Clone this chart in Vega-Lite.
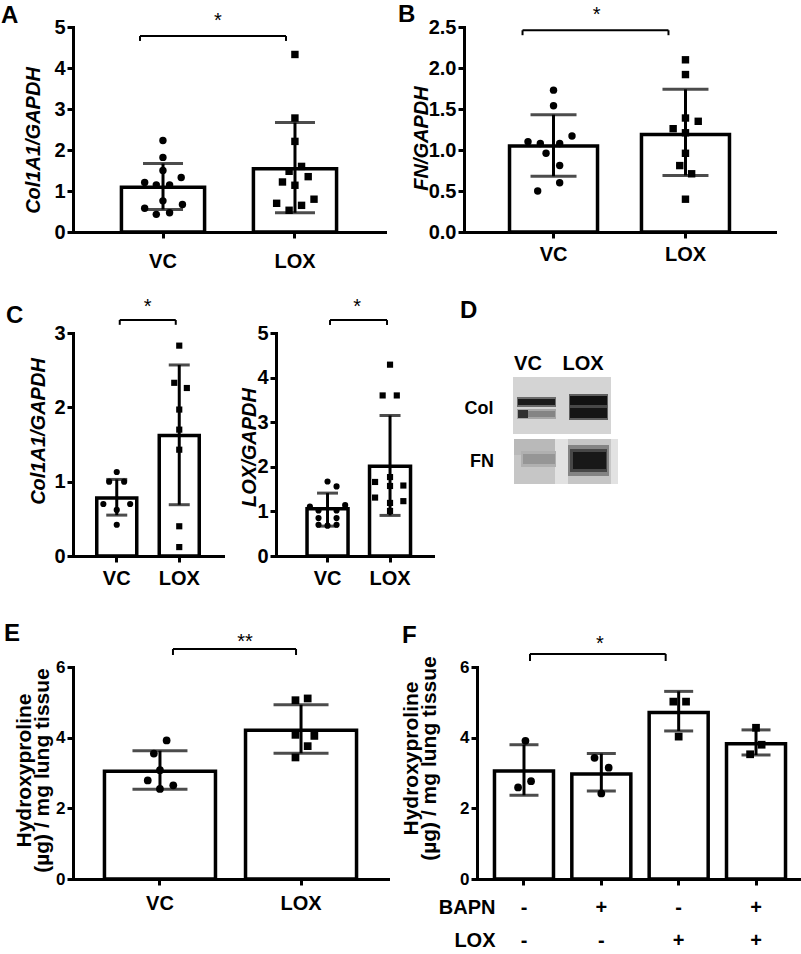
{
"$schema":"https://vega.github.io/schema/vega-lite/v6.json",
"background":"white",
"padding":{"left":1,"top":3,"right":0,"bottom":0},
"spacing":25,
"datasets":{
"A_bar":[{"g":"VC","m":1.09,"lo":0.55,"hi":1.67},{"g":"LOX","m":1.54,"lo":0.47,"hi":2.67}],
"A_pts":[{"g":"VC","v":2.23,"j":0},{"g":"VC","v":1.82,"j":0},{"g":"VC","v":1.5,"j":0},{"g":"VC","v":1.33,"j":0.44},{"g":"VC","v":1.21,"j":-0.44},{"g":"VC","v":1.15,"j":-0.16},{"g":"VC","v":1.15,"j":0.16},{"g":"VC","v":0.76,"j":0},{"g":"VC","v":0.67,"j":0.47},{"g":"VC","v":0.58,"j":-0.44},{"g":"VC","v":0.47,"j":0.16},{"g":"VC","v":0.43,"j":-0.16},
{"g":"LOX","v":4.33,"j":0},{"g":"LOX","v":2.78,"j":0},{"g":"LOX","v":2.21,"j":0},{"g":"LOX","v":1.6,"j":0.16},{"g":"LOX","v":1.48,"j":-0.14},{"g":"LOX","v":1.35,"j":0.32},{"g":"LOX","v":1.22,"j":-0.3},{"g":"LOX","v":1.14,"j":0},{"g":"LOX","v":0.8,"j":0.46},{"g":"LOX","v":0.7,"j":-0.44},{"g":"LOX","v":0.65,"j":0.16},{"g":"LOX","v":0.53,"j":-0.14}],
"A_sig":[{"g":"VC","g2":"LOX","top":4.78,"end":4.66,"star":5.0,"t":"*"}],
"B_bar":[{"g":"VC","m":1.05,"lo":0.68,"hi":1.43},{"g":"LOX","m":1.19,"lo":0.69,"hi":1.74}],
"B_pts":[{"g":"VC","v":1.73,"j":0},{"g":"VC","v":1.54,"j":0},{"g":"VC","v":1.17,"j":0.42},{"g":"VC","v":1.1,"j":-0.58},{"g":"VC","v":1.08,"j":-0.3},{"g":"VC","v":1.08,"j":0.14},{"g":"VC","v":0.96,"j":-0.17},{"g":"VC","v":0.81,"j":0.14},{"g":"VC","v":0.6,"j":0.14},{"g":"VC","v":0.5,"j":-0.36},
{"g":"LOX","v":2.1,"j":0},{"g":"LOX","v":1.92,"j":0},{"g":"LOX","v":1.39,"j":0},{"g":"LOX","v":1.35,"j":0.29},{"g":"LOX","v":1.26,"j":-0.28},{"g":"LOX","v":1.21,"j":0},{"g":"LOX","v":0.96,"j":0},{"g":"LOX","v":0.81,"j":-0.13},{"g":"LOX","v":0.71,"j":0.14},{"g":"LOX","v":0.4,"j":0}],
"B_sig":[{"g":"VC","g2":"LOX","top":2.46,"end":2.4,"star":2.57,"t":"*"}],
"C1_bar":[{"g":"VC","m":0.78,"lo":0.55,"hi":1.03},{"g":"LOX","m":1.62,"lo":0.69,"hi":2.57}],
"C1_pts":[{"g":"VC","v":1.13,"j":0},{"g":"VC","v":1.0,"j":-0.38},{"g":"VC","v":1.0,"j":0.37},{"g":"VC","v":0.7,"j":-0.67},{"g":"VC","v":0.7,"j":0.67},{"g":"VC","v":0.62,"j":0},{"g":"VC","v":0.42,"j":0},
{"g":"LOX","v":2.83,"j":0},{"g":"LOX","v":2.33,"j":-0.25},{"g":"LOX","v":2.26,"j":0.38},{"g":"LOX","v":1.97,"j":0},{"g":"LOX","v":1.7,"j":0},{"g":"LOX","v":1.43,"j":0},{"g":"LOX","v":0.4,"j":0},{"g":"LOX","v":0.12,"j":0}],
"C1_sig":[{"g":"VC","g2":"LOX","top":3.175,"end":3.11,"star":3.27,"t":"*"}],
"C2_bar":[{"g":"VC","m":1.06,"lo":0.67,"hi":1.41},{"g":"LOX","m":2.01,"lo":0.91,"hi":3.15}],
"C2_pts":[{"g":"VC","v":1.67,"j":0},{"g":"VC","v":1.56,"j":0.44},{"g":"VC","v":1.14,"j":0.86},{"g":"VC","v":1.11,"j":-0.86},{"g":"VC","v":1.02,"j":-0.44},{"g":"VC","v":1.02,"j":0.44},{"g":"VC","v":0.85,"j":-0.44},{"g":"VC","v":0.85,"j":0.44},{"g":"VC","v":0.7,"j":-0.44},{"g":"VC","v":0.68,"j":0},{"g":"VC","v":0.7,"j":0.44},
{"g":"LOX","v":4.29,"j":0},{"g":"LOX","v":3.6,"j":-0.36},{"g":"LOX","v":3.6,"j":0.33},{"g":"LOX","v":1.77,"j":0},{"g":"LOX","v":1.66,"j":-0.73},{"g":"LOX","v":1.58,"j":0.65},{"g":"LOX","v":1.57,"j":0},{"g":"LOX","v":1.31,"j":-0.73},{"g":"LOX","v":1.23,"j":0.65},{"g":"LOX","v":1.19,"j":0},{"g":"LOX","v":1.01,"j":0}],
"C2_sig":[{"g":"VC","g2":"LOX","top":5.29,"end":5.18,"star":5.45,"t":"*"}],
"D_rect":[
{"x0":27,"x1":125,"y0":44,"y1":101,"d":0.15},
{"x0":28,"x1":132,"y0":106,"y1":151,"d":0.2},
{"x0":28,"x1":69,"y0":106,"y1":122,"d":0.25},
{"x0":69,"x1":82,"y0":106,"y1":151,"d":0.1},
{"x0":125,"x1":132,"y0":106,"y1":151,"d":0.1},
{"x0":31,"x1":70,"y0":64,"y1":74,"d":0.55},
{"x0":32,"x1":69,"y0":66,"y1":72,"d":0.9},
{"x0":31,"x1":70,"y0":76,"y1":86,"d":0.32},
{"x0":32,"x1":69,"y0":78,"y1":84,"d":0.45},
{"x0":32,"x1":42,"y0":77,"y1":85,"d":0.8},
{"x0":83,"x1":122,"y0":61,"y1":87,"d":0.6},
{"x0":84,"x1":121,"y0":63,"y1":72,"d":0.95},
{"x0":84,"x1":121,"y0":72,"y1":75,"d":0.7},
{"x0":84,"x1":121,"y0":75,"y1":85,"d":0.93},
{"x0":35,"x1":70,"y0":118,"y1":134,"d":0.28},
{"x0":37,"x1":69,"y0":121,"y1":131,"d":0.38},
{"x0":82,"x1":123,"y0":112,"y1":143,"d":0.45},
{"x0":84,"x1":121,"y0":116,"y1":139,"d":0.7},
{"x0":87,"x1":120,"y0":119,"y1":136,"d":0.92}],
"D_txt":[{"t":"VC","x":42,"y":31,"k":"lane"},{"t":"LOX","x":97,"y":31,"k":"lane"},{"t":"Col","x":-7,"y":76,"k":"row"},{"t":"FN","x":-4,"y":129,"k":"row"}],
"E_bar":[{"g":"VC","m":3.05,"lo":2.54,"hi":3.63},{"g":"LOX","m":4.21,"lo":3.56,"hi":4.93}],
"E_pts":[{"g":"VC","v":3.92,"j":0.12},{"g":"VC","v":3.55,"j":-0.11},{"g":"VC","v":3.08,"j":0},{"g":"VC","v":2.79,"j":-0.22},{"g":"VC","v":2.65,"j":0.24},{"g":"VC","v":2.55,"j":0},
{"g":"LOX","v":5.06,"j":-0.1},{"g":"LOX","v":5.11,"j":0.12},{"g":"LOX","v":4.08,"j":-0.1},{"g":"LOX","v":4.05,"j":0.24},{"g":"LOX","v":3.76,"j":0.12},{"g":"LOX","v":3.44,"j":-0.1}],
"E_sig":[{"g":"VC","g2":"LOX","top":6.51,"end":6.34,"star":6.54,"t":"**"}],
"F_bar":[{"g":"VC","m":3.06,"lo":2.37,"hi":3.8},{"g":"BAPN","m":2.97,"lo":2.49,"hi":3.55},{"g":"LOX","m":4.71,"lo":4.19,"hi":5.31},{"g":"BAPN+LOX","m":3.83,"lo":3.51,"hi":4.22}],
"F_pts":[{"g":"VC","v":3.91,"j":0.05},{"g":"VC","v":2.77,"j":0.24},{"g":"VC","v":2.59,"j":-0.2},
{"g":"BAPN","v":3.43,"j":-0.23},{"g":"BAPN","v":3.15,"j":0.25},{"g":"BAPN","v":2.42,"j":0},
{"g":"LOX","v":5.02,"j":-0.18},{"g":"LOX","v":5.02,"j":0.25},{"g":"LOX","v":4.03,"j":0},
{"g":"BAPN+LOX","v":4.28,"j":0},{"g":"BAPN+LOX","v":3.8,"j":0.19},{"g":"BAPN+LOX","v":3.53,"j":-0.2}],
"F_sig":[{"g":"VC","g2":"LOX","top":6.37,"end":6.17,"star":6.48,"t":"*"}]
},
"vconcat":[
{"bounds":"flush","spacing":79,"hconcat":[
{"width":312,"height":205,"title":{"text":"A","dx":-72,"dy":21},
"resolve":{"scale":{"xOffset":"independent"}},
"layer":[
{"data":{"name":"A_bar"},"mark":{"type":"bar","fill":"white","stroke":"black","strokeWidth":3.5},
"encoding":{"x":{"field":"g","type":"nominal","scale":{"domain":["VC","LOX"],"paddingInner":0.37,"paddingOuter":0.367},"axis":{"title":null,"labelAngle":0,"labelPadding":13}},
"y":{"field":"m","type":"quantitative","scale":{"domain":[0,5],"nice":false},"axis":{"values":[0,1,2,3,4,5],"format":"d","title":"Col1A1/GAPDH","titleFontStyle":"italic","titleX":-40,"titleY":113,"titleAngle":-90,"titleBaseline":"middle","titleAlign":"center"}}}},
{"data":{"name":"A_bar"},"mark":{"type":"rule","color":"black","strokeWidth":3},"encoding":{"x":{"field":"g","type":"nominal"},"y":{"field":"lo","type":"quantitative"},"y2":{"field":"hi"}}},
{"data":{"name":"A_bar"},"mark":{"type":"tick","color":"black","size":40,"thickness":3},"encoding":{"x":{"field":"g","type":"nominal"},"y":{"field":"lo","type":"quantitative"}}},
{"data":{"name":"A_bar"},"mark":{"type":"tick","color":"black","size":40,"thickness":3},"encoding":{"x":{"field":"g","type":"nominal"},"y":{"field":"hi","type":"quantitative"}}},
{"data":{"name":"A_pts"},"mark":{"type":"point","filled":true,"color":"black","size":55,"opacity":1},"encoding":{"x":{"field":"g","type":"nominal"},"xOffset":{"field":"j","type":"quantitative","scale":{"domain":[-1,1],"range":[0,83]}},"y":{"field":"v","type":"quantitative"},"shape":{"field":"g","type":"nominal","scale":{"domain":["VC","LOX"],"range":["circle","square"]},"legend":null}}},
{"data":{"name":"A_sig"},"mark":{"type":"rule","color":"black","strokeWidth":2,"xOffset":-23,"x2Offset":-9},"encoding":{"x":{"field":"g","type":"nominal"},"x2":{"field":"g2"},"y":{"field":"top","type":"quantitative"}}},
{"data":{"name":"A_sig"},"mark":{"type":"rule","color":"black","strokeWidth":2,"xOffset":-23},"encoding":{"x":{"field":"g","type":"nominal"},"y":{"field":"top","type":"quantitative"},"y2":{"field":"end"}}},
{"data":{"name":"A_sig"},"mark":{"type":"rule","color":"black","strokeWidth":2,"xOffset":-9},"encoding":{"x":{"field":"g2","type":"nominal"},"y":{"field":"top","type":"quantitative"},"y2":{"field":"end"}}},
{"data":{"name":"A_sig"},"mark":{"type":"text","color":"black","fontSize":20,"baseline":"alphabetic","align":"center","xOffset":55},"encoding":{"x":{"field":"g","type":"nominal"},"y":{"field":"star","type":"quantitative"},"text":{"field":"t"}}}
]},
{"width":311,"height":205,"title":{"text":"B","dx":-66,"dy":26},
"resolve":{"scale":{"xOffset":"independent"}},
"layer":[
{"data":{"name":"B_bar"},"mark":{"type":"bar","fill":"white","stroke":"black","strokeWidth":3.5},
"encoding":{"x":{"field":"g","type":"nominal","scale":{"domain":["VC","LOX"],"paddingInner":0.333,"paddingOuter":0.345},"axis":{"title":null,"labelAngle":0,"labelPadding":6}},
"y":{"field":"m","type":"quantitative","scale":{"domain":[0,2.5],"nice":false},"axis":{"values":[0,0.5,1,1.5,2,2.5],"format":".1f","title":"FN/GAPDH","titleFontStyle":"italic","titleX":-43,"titleY":111,"titleAngle":-90,"titleBaseline":"middle","titleAlign":"center"}}}},
{"data":{"name":"B_bar"},"mark":{"type":"rule","color":"black","strokeWidth":3},"encoding":{"x":{"field":"g","type":"nominal"},"y":{"field":"lo","type":"quantitative"},"y2":{"field":"hi"}}},
{"data":{"name":"B_bar"},"mark":{"type":"tick","color":"black","size":46,"thickness":3},"encoding":{"x":{"field":"g","type":"nominal"},"y":{"field":"lo","type":"quantitative"}}},
{"data":{"name":"B_bar"},"mark":{"type":"tick","color":"black","size":46,"thickness":3},"encoding":{"x":{"field":"g","type":"nominal"},"y":{"field":"hi","type":"quantitative"}}},
{"data":{"name":"B_pts"},"mark":{"type":"point","filled":true,"color":"black","size":55,"opacity":1},"encoding":{"x":{"field":"g","type":"nominal"},"xOffset":{"field":"j","type":"quantitative","scale":{"domain":[-1,1],"range":[0,88]}},"y":{"field":"v","type":"quantitative"},"shape":{"field":"g","type":"nominal","scale":{"domain":["VC","LOX"],"range":["circle","square"]},"legend":null}}},
{"data":{"name":"B_sig"},"mark":{"type":"rule","color":"black","strokeWidth":2,"xOffset":-31,"x2Offset":-17},"encoding":{"x":{"field":"g","type":"nominal"},"x2":{"field":"g2"},"y":{"field":"top","type":"quantitative"}}},
{"data":{"name":"B_sig"},"mark":{"type":"rule","color":"black","strokeWidth":2,"xOffset":-31},"encoding":{"x":{"field":"g","type":"nominal"},"y":{"field":"top","type":"quantitative"},"y2":{"field":"end"}}},
{"data":{"name":"B_sig"},"mark":{"type":"rule","color":"black","strokeWidth":2,"xOffset":-17},"encoding":{"x":{"field":"g2","type":"nominal"},"y":{"field":"top","type":"quantitative"},"y2":{"field":"end"}}},
{"data":{"name":"B_sig"},"mark":{"type":"text","color":"black","fontSize":20,"baseline":"alphabetic","align":"center","xOffset":43},"encoding":{"x":{"field":"g","type":"nominal"},"y":{"field":"star","type":"quantitative"},"text":{"field":"t"}}}
]}
]},
{"bounds":"flush","spacing":53,"hconcat":[
{"width":150,"height":223,"title":{"text":"C","dx":-67,"dy":35},
"resolve":{"scale":{"xOffset":"independent"}},
"layer":[
{"data":{"name":"C1_bar"},"mark":{"type":"bar","fill":"white","stroke":"black","strokeWidth":3.5},
"encoding":{"x":{"field":"g","type":"nominal","scale":{"domain":["VC","LOX"],"paddingInner":0.36,"paddingOuter":0.38},"axis":{"title":null,"labelAngle":0,"labelPadding":6}},
"y":{"field":"m","type":"quantitative","scale":{"domain":[0,3],"nice":false},"axis":{"values":[0,1,2,3],"format":"d","title":"Col1A1/GAPDH","titleFontStyle":"italic","titleX":-35,"titleY":98,"titleAngle":-90,"titleBaseline":"middle","titleAlign":"center"}}}},
{"data":{"name":"C1_bar"},"mark":{"type":"rule","color":"black","strokeWidth":3},"encoding":{"x":{"field":"g","type":"nominal"},"y":{"field":"lo","type":"quantitative"},"y2":{"field":"hi"}}},
{"data":{"name":"C1_bar"},"mark":{"type":"tick","color":"black","size":21,"thickness":3},"encoding":{"x":{"field":"g","type":"nominal"},"y":{"field":"lo","type":"quantitative"}}},
{"data":{"name":"C1_bar"},"mark":{"type":"tick","color":"black","size":21,"thickness":3},"encoding":{"x":{"field":"g","type":"nominal"},"y":{"field":"hi","type":"quantitative"}}},
{"data":{"name":"C1_pts"},"mark":{"type":"point","filled":true,"color":"black","size":38,"opacity":1},"encoding":{"x":{"field":"g","type":"nominal"},"xOffset":{"field":"j","type":"quantitative","scale":{"domain":[-1,1],"range":[0,40]}},"y":{"field":"v","type":"quantitative"},"shape":{"field":"g","type":"nominal","scale":{"domain":["VC","LOX"],"range":["circle","square"]},"legend":null}}},
{"data":{"name":"C1_sig"},"mark":{"type":"rule","color":"black","strokeWidth":2,"xOffset":3,"x2Offset":-3.5},"encoding":{"x":{"field":"g","type":"nominal"},"x2":{"field":"g2"},"y":{"field":"top","type":"quantitative"}}},
{"data":{"name":"C1_sig"},"mark":{"type":"rule","color":"black","strokeWidth":2,"xOffset":3},"encoding":{"x":{"field":"g","type":"nominal"},"y":{"field":"top","type":"quantitative"},"y2":{"field":"end"}}},
{"data":{"name":"C1_sig"},"mark":{"type":"rule","color":"black","strokeWidth":2,"xOffset":-3.5},"encoding":{"x":{"field":"g2","type":"nominal"},"y":{"field":"top","type":"quantitative"},"y2":{"field":"end"}}},
{"data":{"name":"C1_sig"},"mark":{"type":"text","color":"black","fontSize":20,"baseline":"alphabetic","align":"center","xOffset":31},"encoding":{"x":{"field":"g","type":"nominal"},"y":{"field":"star","type":"quantitative"},"text":{"field":"t"}}}
]},
{"width":157,"height":223,
"resolve":{"scale":{"xOffset":"independent"}},
"layer":[
{"data":{"name":"C2_bar"},"mark":{"type":"bar","fill":"white","stroke":"black","strokeWidth":3.5},
"encoding":{"x":{"field":"g","type":"nominal","scale":{"domain":["VC","LOX"],"paddingInner":0.344,"paddingOuter":0.428,"align":0.58},"axis":{"title":null,"labelAngle":0,"labelPadding":6}},
"y":{"field":"m","type":"quantitative","scale":{"domain":[0,5],"nice":false},"axis":{"values":[0,1,2,3,4,5],"format":"d","title":"LOX/GAPDH","titleFontStyle":"italic","titleX":-27,"titleY":114,"titleAngle":-90,"titleBaseline":"middle","titleAlign":"center"}}}},
{"data":{"name":"C2_bar"},"mark":{"type":"rule","color":"black","strokeWidth":3},"encoding":{"x":{"field":"g","type":"nominal"},"y":{"field":"lo","type":"quantitative"},"y2":{"field":"hi"}}},
{"data":{"name":"C2_bar"},"mark":{"type":"tick","color":"black","size":21,"thickness":3},"encoding":{"x":{"field":"g","type":"nominal"},"y":{"field":"lo","type":"quantitative"}}},
{"data":{"name":"C2_bar"},"mark":{"type":"tick","color":"black","size":21,"thickness":3},"encoding":{"x":{"field":"g","type":"nominal"},"y":{"field":"hi","type":"quantitative"}}},
{"data":{"name":"C2_pts"},"mark":{"type":"point","filled":true,"color":"black","size":38,"opacity":1},"encoding":{"x":{"field":"g","type":"nominal"},"xOffset":{"field":"j","type":"quantitative","scale":{"domain":[-1,1],"range":[0,41]}},"y":{"field":"v","type":"quantitative"},"shape":{"field":"g","type":"nominal","scale":{"domain":["VC","LOX"],"range":["circle","square"]},"legend":null}}},
{"data":{"name":"C2_sig"},"mark":{"type":"rule","color":"black","strokeWidth":2,"xOffset":2.5,"x2Offset":-3},"encoding":{"x":{"field":"g","type":"nominal"},"x2":{"field":"g2"},"y":{"field":"top","type":"quantitative"}}},
{"data":{"name":"C2_sig"},"mark":{"type":"rule","color":"black","strokeWidth":2,"xOffset":2.5},"encoding":{"x":{"field":"g","type":"nominal"},"y":{"field":"top","type":"quantitative"},"y2":{"field":"end"}}},
{"data":{"name":"C2_sig"},"mark":{"type":"rule","color":"black","strokeWidth":2,"xOffset":-3},"encoding":{"x":{"field":"g2","type":"nominal"},"y":{"field":"top","type":"quantitative"},"y2":{"field":"end"}}},
{"data":{"name":"C2_sig"},"mark":{"type":"text","color":"black","fontSize":20,"baseline":"alphabetic","align":"center","xOffset":29.5},"encoding":{"x":{"field":"g","type":"nominal"},"y":{"field":"star","type":"quantitative"},"text":{"field":"t"}}}
]},
{"width":140,"height":263,"title":{"text":"D","dx":-26,"dy":-6},
"layer":[
{"data":{"name":"D_rect"},"mark":{"type":"rect"},
"encoding":{"x":{"field":"x0","type":"quantitative","scale":{"domain":[0,140],"nice":false,"zero":false},"axis":null},"x2":{"field":"x1"},
"y":{"field":"y0","type":"quantitative","scale":{"domain":[0,263],"nice":false,"zero":false,"reverse":true},"axis":null},"y2":{"field":"y1"},
"color":{"field":"d","type":"quantitative","scale":{"domain":[0,1],"range":["#ffffff","#000000"]},"legend":null}}},
{"data":{"name":"D_txt"},"transform":[{"filter":"datum.k == 'lane'"}],"mark":{"type":"text","fontSize":20,"fontWeight":"bold","color":"black","baseline":"middle","align":"center"},
"encoding":{"x":{"field":"x","type":"quantitative"},"y":{"field":"y","type":"quantitative"},"text":{"field":"t"}}},
{"data":{"name":"D_txt"},"transform":[{"filter":"datum.k == 'row'"}],"mark":{"type":"text","fontSize":18,"fontWeight":"bold","color":"black","baseline":"middle","align":"center"},
"encoding":{"x":{"field":"x","type":"quantitative"},"y":{"field":"y","type":"quantitative"},"text":{"field":"t"}}}
]}
]},
{"bounds":"flush","spacing":89,"hconcat":[
{"width":315,"height":212,"title":{"text":"E","dx":-69,"dy":18},
"resolve":{"scale":{"xOffset":"independent"}},
"layer":[
{"data":{"name":"E_bar"},"mark":{"type":"bar","fill":"white","stroke":"black","strokeWidth":3.5},
"encoding":{"x":{"field":"g","type":"nominal","scale":{"domain":["VC","LOX"],"paddingInner":0.213,"paddingOuter":0.223},"axis":{"title":null,"labelAngle":0,"labelPadding":8}},
"y":{"field":"m","type":"quantitative","scale":{"domain":[0,6],"nice":false},"axis":{"values":[0,2,4,6],"format":"d","labelFontSize":17,"title":["Hydroxyproline","(µg) / mg lung tissue"],"titleFontSize":21,"titleLineHeight":18,"titleX":-49,"titleY":103,"titleAngle":-90,"titleBaseline":"middle","titleAlign":"center"}}}},
{"data":{"name":"E_bar"},"mark":{"type":"rule","color":"black","strokeWidth":3},"encoding":{"x":{"field":"g","type":"nominal"},"y":{"field":"lo","type":"quantitative"},"y2":{"field":"hi"}}},
{"data":{"name":"E_bar"},"mark":{"type":"tick","color":"black","size":55,"thickness":3},"encoding":{"x":{"field":"g","type":"nominal"},"y":{"field":"lo","type":"quantitative"}}},
{"data":{"name":"E_bar"},"mark":{"type":"tick","color":"black","size":55,"thickness":3},"encoding":{"x":{"field":"g","type":"nominal"},"y":{"field":"hi","type":"quantitative"}}},
{"data":{"name":"E_pts"},"mark":{"type":"point","filled":true,"color":"black","size":60,"opacity":1},"encoding":{"x":{"field":"g","type":"nominal"},"xOffset":{"field":"j","type":"quantitative","scale":{"domain":[-1,1],"range":[0,111]}},"y":{"field":"v","type":"quantitative"},"shape":{"field":"g","type":"nominal","scale":{"domain":["VC","LOX"],"range":["circle","square"]},"legend":null}}},
{"data":{"name":"E_sig"},"mark":{"type":"rule","color":"black","strokeWidth":2,"xOffset":13,"x2Offset":-5},"encoding":{"x":{"field":"g","type":"nominal"},"x2":{"field":"g2"},"y":{"field":"top","type":"quantitative"}}},
{"data":{"name":"E_sig"},"mark":{"type":"rule","color":"black","strokeWidth":2,"xOffset":13},"encoding":{"x":{"field":"g","type":"nominal"},"y":{"field":"top","type":"quantitative"},"y2":{"field":"end"}}},
{"data":{"name":"E_sig"},"mark":{"type":"rule","color":"black","strokeWidth":2,"xOffset":-5},"encoding":{"x":{"field":"g2","type":"nominal"},"y":{"field":"top","type":"quantitative"},"y2":{"field":"end"}}},
{"data":{"name":"E_sig"},"mark":{"type":"text","color":"black","fontSize":20,"baseline":"alphabetic","align":"center","xOffset":85},"encoding":{"x":{"field":"g","type":"nominal"},"y":{"field":"star","type":"quantitative"},"text":{"field":"t"}}}
]},
{"width":326,"height":212,"title":{"text":"F","dx":-75,"dy":18},
"resolve":{"scale":{"xOffset":"independent"}},
"layer":[
{"data":{"name":"F_bar"},"mark":{"type":"bar","fill":"white","stroke":"black","strokeWidth":3.5},
"encoding":{"x":{"field":"g","type":"nominal","scale":{"domain":["VC","BAPN","LOX","BAPN+LOX"],"paddingInner":0.237,"paddingOuter":0.226},"axis":{"title":["BAPN","LOX"],"titleX":18,"titleY":28,"titleAlign":"right","titleBaseline":"middle","titleLineHeight":33,"titleAngle":0,"labelAngle":0,"labelExpr":"datum.value == 'VC' ? ['-','-'] : datum.value == 'BAPN' ? ['+','-'] : datum.value == 'LOX' ? ['-','+'] : ['+','+']","labelLineHeight":33,"labelBaseline":"middle","labelPadding":22}},
"y":{"field":"m","type":"quantitative","scale":{"domain":[0,6],"nice":false},"axis":{"values":[0,2,4,6],"format":"d","labelFontSize":17,"title":["Hydroxyproline","(µg) / mg lung tissue"],"titleFontSize":21,"titleLineHeight":18,"titleX":-66,"titleY":91,"titleAngle":-90,"titleBaseline":"middle","titleAlign":"center"}}}},
{"data":{"name":"F_bar"},"mark":{"type":"rule","color":"black","strokeWidth":3},"encoding":{"x":{"field":"g","type":"nominal"},"y":{"field":"lo","type":"quantitative"},"y2":{"field":"hi"}}},
{"data":{"name":"F_bar"},"mark":{"type":"tick","color":"black","size":29,"thickness":3},"encoding":{"x":{"field":"g","type":"nominal"},"y":{"field":"lo","type":"quantitative"}}},
{"data":{"name":"F_bar"},"mark":{"type":"tick","color":"black","size":29,"thickness":3},"encoding":{"x":{"field":"g","type":"nominal"},"y":{"field":"hi","type":"quantitative"}}},
{"data":{"name":"F_pts"},"mark":{"type":"point","filled":true,"color":"black","size":60,"opacity":1},"encoding":{"x":{"field":"g","type":"nominal"},"xOffset":{"field":"j","type":"quantitative","scale":{"domain":[-1,1],"range":[0,59]}},"y":{"field":"v","type":"quantitative"},"shape":{"field":"g","type":"nominal","scale":{"domain":["VC","BAPN","LOX","BAPN+LOX"],"range":["circle","square","triangle-up","triangle-down"]},"legend":null}}},
{"data":{"name":"F_sig"},"mark":{"type":"rule","color":"black","strokeWidth":2,"xOffset":6,"x2Offset":-13},"encoding":{"x":{"field":"g","type":"nominal"},"x2":{"field":"g2"},"y":{"field":"top","type":"quantitative"}}},
{"data":{"name":"F_sig"},"mark":{"type":"rule","color":"black","strokeWidth":2,"xOffset":6},"encoding":{"x":{"field":"g","type":"nominal"},"y":{"field":"top","type":"quantitative"},"y2":{"field":"end"}}},
{"data":{"name":"F_sig"},"mark":{"type":"rule","color":"black","strokeWidth":2,"xOffset":-13},"encoding":{"x":{"field":"g2","type":"nominal"},"y":{"field":"top","type":"quantitative"},"y2":{"field":"end"}}},
{"data":{"name":"F_sig"},"mark":{"type":"text","color":"black","fontSize":20,"baseline":"alphabetic","align":"center","xOffset":76},"encoding":{"x":{"field":"g","type":"nominal"},"y":{"field":"star","type":"quantitative"},"text":{"field":"t"}}}
]}
]}
],
"config":{
"font":"Liberation Sans",
"view":{"stroke":null},
"title":{"font":"Liberation Sans","fontSize":24,"fontWeight":"bold","color":"black","anchor":"start","frame":"group","offset":0},
"axis":{"grid":false,"domainColor":"black","domainWidth":3,"domainCap":"square","tickColor":"black","tickWidth":3,"tickSize":6,"labelColor":"black","labelFont":"Liberation Sans","labelFontWeight":"bold","labelFontSize":20,"labelPadding":2,"titleColor":"black","titleFont":"Liberation Sans","titleFontWeight":"bold","titleFontSize":20},
"text":{"font":"Liberation Sans"}
}
}
